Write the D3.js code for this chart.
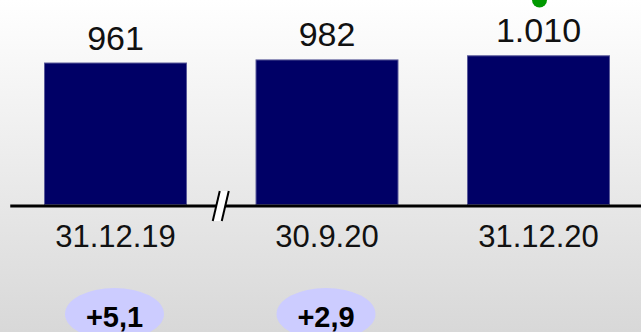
<!DOCTYPE html>
<html>
<head>
<meta charset="utf-8">
<script src="https://cdn.jsdelivr.net/npm/d3@7"></script>
<style>
  body { margin: 0; overflow: hidden; }
  svg { display: block; font-family: "Liberation Sans", Arial, sans-serif; }
</style>
</head>
<body>
<script>
let categories = ['31.12.19', '30.9.20', '31.12.20']
let values = [961, 982, 1010]
let valueLabels = ['961', '982', '1.010']
let changes = ['+5,1', '+2,9']

let width = 641, height = 332

let svg = d3.select('body').append('svg')
  .attr('width', width)
  .attr('height', height)

let grad = svg.append('defs').append('linearGradient')
  .attr('id', 'bg')
  .attr('x1', 0).attr('y1', 0).attr('x2', 0).attr('y2', 1)
grad.append('stop').attr('offset', '0%').attr('stop-color', '#ffffff')
grad.append('stop').attr('offset', '100%').attr('stop-color', '#d8d8d8')

svg.append('rect')
  .attr('width', width)
  .attr('height', height)
  .attr('fill', 'url(#bg)')

let x = d3.scaleBand()
  .domain(categories)
  .range([9.75, 644.25])
  .paddingInner(0.324)
  .paddingOuter(0.162)

let y = d3.scaleLinear()
  .domain([0, 1010])
  .range([204, 55.3])

// bars
svg.selectAll('.bar')
  .data(values)
  .enter().append('rect')
    .attr('class', 'bar')
    .attr('x', (d, i) => x(categories[i]) + 0.5)
    .attr('y', (d) => y(d) + 0.5)
    .attr('width', x.bandwidth() - 1)
    .attr('height', (d) => y(0) - y(d))
    .attr('fill', '#000066')
    .attr('stroke', '#5a5a9a')
    .attr('stroke-width', 1)

// value labels
svg.selectAll('.val')
  .data(values)
  .enter().append('text')
    .attr('class', 'val')
    .attr('x', (d, i) => x(categories[i]) + x.bandwidth() / 2)
    .attr('y', (d) => y(d) - 13)
    .attr('text-anchor', 'middle')
    .attr('font-size', 34)
    .attr('fill', '#111')
    .text((d, i) => valueLabels[i])

// category axis
let axis = svg.append('g')
  .attr('class', 'axis x')
  .attr('transform', 'translate(0,205.5)')
  .call(d3.axisBottom(x).tickSize(0).tickPadding(19))

axis.select('.domain')
  .attr('stroke', '#000')
  .attr('stroke-width', 3)
axis.selectAll('text')
  .attr('font-size', 31)
  .attr('font-family', '"Liberation Sans", Arial, sans-serif')
  .attr('fill', '#111')

// axis break mark
let bx = (x(categories[0]) + x.bandwidth() + x(categories[1])) / 2
svg.append('polygon')
  .attr('points', [[bx - 8.5, 221], [bx - 1.5, 191], [bx + 7.5, 191], [bx + 0.5, 221]].join(' '))
  .attr('fill', '#fff')
svg.append('line')
  .attr('x1', bx - 8.5).attr('y1', 221).attr('x2', bx - 1.5).attr('y2', 191)
  .attr('stroke', '#000').attr('stroke-width', 2)
svg.append('line')
  .attr('x1', bx + 0.5).attr('y1', 221).attr('x2', bx + 7.5).attr('y2', 191)
  .attr('stroke', '#000').attr('stroke-width', 2)

// green marker on latest bar
svg.append('circle')
  .attr('cx', x(categories[2]) + x.bandwidth() / 2 + 1)
  .attr('cy', 0)
  .attr('r', 7.5)
  .attr('fill', '#009900')

// change bubbles
let bubble = svg.selectAll('.chg')
  .data(changes)
  .enter().append('g')
    .attr('class', 'chg')
    .attr('transform', (d, i) => 'translate(' + [x(categories[i]) + x.bandwidth() / 2 - 1, 314] + ')')

bubble.append('ellipse')
  .attr('rx', 49.5)
  .attr('ry', 26)
  .attr('fill', '#ccccff')

bubble.append('text')
  .attr('y', 13)
  .attr('text-anchor', 'middle')
  .attr('font-size', 29)
  .attr('font-weight', 'bold')
  .attr('fill', '#000')
  .text((d) => d)
</script>
</body>
</html>
